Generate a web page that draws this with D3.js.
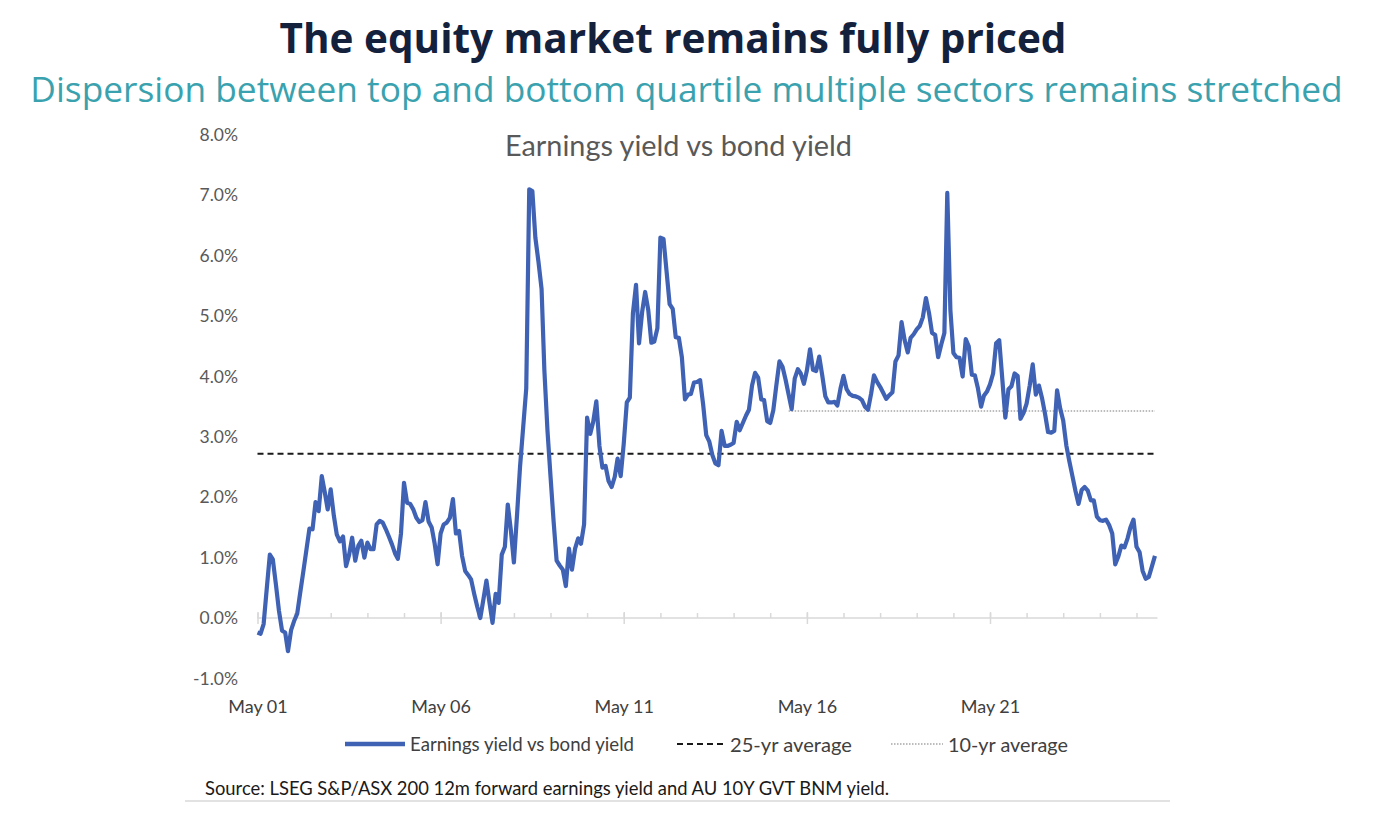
<!DOCTYPE html>
<html><head><meta charset="utf-8">
<script src="https://cdn.jsdelivr.net/npm/d3@7"></script>
<style>body{margin:0;background:#fff}svg{display:block}</style>
</head><body>
<svg id="c" width="1374" height="817"></svg>
<script>
// ---- data ----
const startMonth = "2001-05";           // first monthly observation
const yieldGap = [                       // earnings yield minus bond yield, %, monthly
 -0.24,-0.26,-0.10,0.48,1.05,0.97,0.55,0.12,-0.21,-0.24,
 -0.55,-0.20,-0.05,0.07,0.42,0.77,1.13,1.48,1.47,1.92,
 1.77,2.35,2.10,1.80,2.13,1.70,1.38,1.27,1.35,0.86,
 1.05,1.33,0.95,1.20,1.28,1.00,1.25,1.14,1.14,1.55,
 1.61,1.58,1.47,1.35,1.22,1.07,0.98,1.40,2.24,1.91,
 1.89,1.80,1.66,1.59,1.62,1.92,1.60,1.50,1.25,0.89,
 1.40,1.55,1.58,1.66,1.97,1.40,1.44,1.03,0.78,0.71,
 0.64,0.40,0.19,0.00,0.30,0.62,0.25,-0.08,0.40,0.25,
 1.05,1.18,1.88,1.45,0.92,1.70,2.50,3.15,3.80,7.10,
 7.07,6.30,5.90,5.45,4.10,3.10,2.35,1.60,0.95,0.87,
 0.80,0.53,1.15,0.80,1.15,1.32,1.23,1.55,3.32,3.05,
 3.25,3.59,2.85,2.49,2.52,2.27,2.17,2.34,2.64,2.35,
 2.88,3.57,3.65,5.05,5.52,4.55,5.07,5.40,5.10,4.56,
 4.58,4.80,6.30,6.28,5.75,5.20,5.12,4.65,4.64,4.32,
 3.62,3.70,3.71,3.90,3.91,3.94,3.54,3.03,2.92,2.70,
 2.56,2.53,3.10,2.85,2.85,2.87,2.90,3.25,3.11,3.23,
 3.35,3.45,3.85,4.06,3.98,3.62,3.61,3.26,3.23,3.44,
 3.85,4.25,4.16,3.95,3.70,3.46,3.97,4.12,4.05,3.88,
 4.10,4.45,4.11,4.09,4.33,4.02,3.67,3.57,3.57,3.58,
 3.52,3.80,4.01,3.79,3.71,3.68,3.67,3.65,3.61,3.50,
 3.45,3.72,4.02,3.91,3.83,3.73,3.63,3.69,3.74,4.25,
 4.35,4.90,4.60,4.40,4.64,4.70,4.78,4.84,4.98,5.30,
 5.05,4.72,4.69,4.32,4.53,4.72,7.04,5.10,4.39,4.32,
 4.31,4.00,4.62,4.50,4.03,4.02,3.80,3.50,3.68,3.75,
 3.87,4.05,4.55,4.60,3.95,3.32,3.79,3.84,4.05,4.01,
 3.30,3.40,3.55,3.85,4.20,3.70,3.85,3.65,3.38,3.08,
 3.07,3.10,3.77,3.47,3.27,2.86,2.60,2.35,2.10,1.89,
 2.12,2.17,2.11,1.95,1.95,1.68,1.62,1.61,1.63,1.54,
 1.40,0.89,1.02,1.20,1.17,1.32,1.50,1.63,1.18,1.09,
 0.78,0.65,0.68,0.85,1.03
];
const avg25 = 2.72;                      // 25-yr average, %
const avg10 = 3.43;                      // 10-yr average, %
const avg10Start = "2015-11";
const yTicks = [-1,0,1,2,3,4,5,6,7,8];
const xLabelYears = [2001,2006,2011,2016,2021];
const xMinorYears = d3.range(2001,2026);
const seriesNames = ["Earnings yield vs bond yield","25-yr average","10-yr average"];
const titleText = "The equity market remains fully priced";
const subtitleText = "Dispersion between top and bottom quartile multiple sectors remains stretched";
const chartTitle = "Earnings yield vs bond yield";
const sourceText = "Source: LSEG S&P/ASX 200 12m forward earnings yield and AU 10Y GVT BNM yield.";

// ---- build ----
const parseM = d3.timeParse("%Y-%m");
const t0 = parseM(startMonth);
const data = yieldGap.map((v,i)=>({date:d3.timeMonth.offset(t0,i), v}));
const tEnd = data[data.length-1].date;

const svg = d3.select("#c");
const BLUE = "#3f62b5";
const GREY = "#595959";
const FONT = "Lato, 'Liberation Sans', sans-serif";

const x = d3.scaleTime().domain([new Date(2001,4,1), new Date(2021,4,1)]).range([257.5, 990]);
const y = d3.scaleLinear().domain([-1, 8]).range([678.4, 135]);

function fit(sel, target){
  const n = sel.node(); const fs = parseFloat(sel.attr("font-size"));
  const w = n.getComputedTextLength(); sel.attr("font-size", fs*target/w);
}

// titles
const tt = svg.append("text").attr("x",673).attr("y",37).attr("text-anchor","middle")
  .attr("dominant-baseline","central").attr("font-family","'Open Sans', sans-serif")
  .attr("font-weight",700).attr("font-size",36).attr("fill","#14213d").text(titleText);
fit(tt, 787);
const st = svg.append("text").attr("x",686.5).attr("y",88).attr("text-anchor","middle")
  .attr("dominant-baseline","central").attr("font-family","'Open Sans', sans-serif")
  .attr("font-size",32).attr("fill","#3aa2ae").text(subtitleText);
fit(st, 1313);
const ct = svg.append("text").attr("x",678.5).attr("y",145).attr("text-anchor","middle")
  .attr("dominant-baseline","central").attr("font-family",FONT)
  .attr("font-size",24).attr("fill",GREY).text(chartTitle);
fit(ct, 347);

// y axis labels
const ya = svg.append("g").attr("transform","translate(238,0)")
  .call(d3.axisLeft(y).tickValues(yTicks).tickSize(0).tickPadding(0).tickFormat(v=>v.toFixed(1)+"%"));
ya.select(".domain").remove();
ya.selectAll("text").attr("font-family",FONT).attr("font-size",17.5).attr("fill",GREY);

// x axis
const xg = svg.append("g").attr("transform",`translate(0,${y(0)})`);
xg.append("line").attr("x1",x(t0)).attr("x2",x(tEnd)+2.5).attr("stroke","#d9d9d9").attr("stroke-width",1.5);
const minor = xg.append("g").call(d3.axisBottom(x).tickValues(xMinorYears.map(yr=>new Date(yr,4,1))).tickSize(-5).tickFormat(""));
minor.select(".domain").remove();
minor.selectAll("line").attr("stroke","#d9d9d9").attr("stroke-width",1.5);
const major = xg.append("g").call(d3.axisBottom(x).tickValues(xLabelYears.map(yr=>new Date(yr,4,1))).tickSize(6)
  .tickFormat(d=>"May "+d3.timeFormat("%y")(d)));
major.select(".domain").remove();
major.selectAll("line").attr("y1",-6).attr("y2",6).attr("stroke","#d9d9d9").attr("stroke-width",1.5);
major.selectAll("text").attr("y",89).attr("dy","0.35em").attr("font-family",FONT).attr("font-size",18).attr("fill","#404040");

// average lines
svg.append("line").attr("x1",x(t0)).attr("x2",x(tEnd)).attr("y1",y(avg25)).attr("y2",y(avg25))
  .attr("stroke","#1a1a1a").attr("stroke-width",2).attr("stroke-dasharray","6,4");
svg.append("line").attr("x1",x(parseM(avg10Start))).attr("x2",x(tEnd)).attr("y1",y(avg10)).attr("y2",y(avg10))
  .attr("stroke","#a6a6a6").attr("stroke-width",1.5).attr("stroke-dasharray","1.5,1.5");

// main line
svg.append("path").datum(data).attr("fill","none").attr("stroke",BLUE).attr("stroke-width",4.2)
  .attr("stroke-linejoin","round").attr("d", d3.line().x(d=>x(d.date)).y(d=>y(d.v)));

// legend
const ly = 744;
const leg = svg.append("g").attr("font-family",FONT).attr("fill","#404040");
leg.append("line").attr("x1",345).attr("x2",405).attr("y1",ly).attr("y2",ly).attr("stroke",BLUE).attr("stroke-width",4.5);
fit(leg.append("text").attr("x",410).attr("y",ly).attr("dominant-baseline","central").attr("font-size",18).text(seriesNames[0]), 224);
leg.append("line").attr("x1",677).attr("x2",724).attr("y1",ly).attr("y2",ly).attr("stroke","#1a1a1a").attr("stroke-width",2).attr("stroke-dasharray","6,4");
fit(leg.append("text").attr("x",730).attr("y",ly).attr("dominant-baseline","central").attr("font-size",18).text(seriesNames[1]), 122);
leg.append("line").attr("x1",891).attr("x2",943).attr("y1",ly).attr("y2",ly).attr("stroke","#a6a6a6").attr("stroke-width",1.5).attr("stroke-dasharray","1.5,1.5");
fit(leg.append("text").attr("x",948).attr("y",ly).attr("dominant-baseline","central").attr("font-size",18).text(seriesNames[2]), 120);

// source
fit(svg.append("text").attr("x",205).attr("y",788).attr("dominant-baseline","central")
  .attr("font-family",FONT).attr("font-size",18).attr("fill","#1a1a1a").text(sourceText), 685);
svg.append("line").attr("x1",185).attr("x2",1170).attr("y1",801).attr("y2",801).attr("stroke","#d9d9d9").attr("stroke-width",1.5);
</script>
</body></html>
